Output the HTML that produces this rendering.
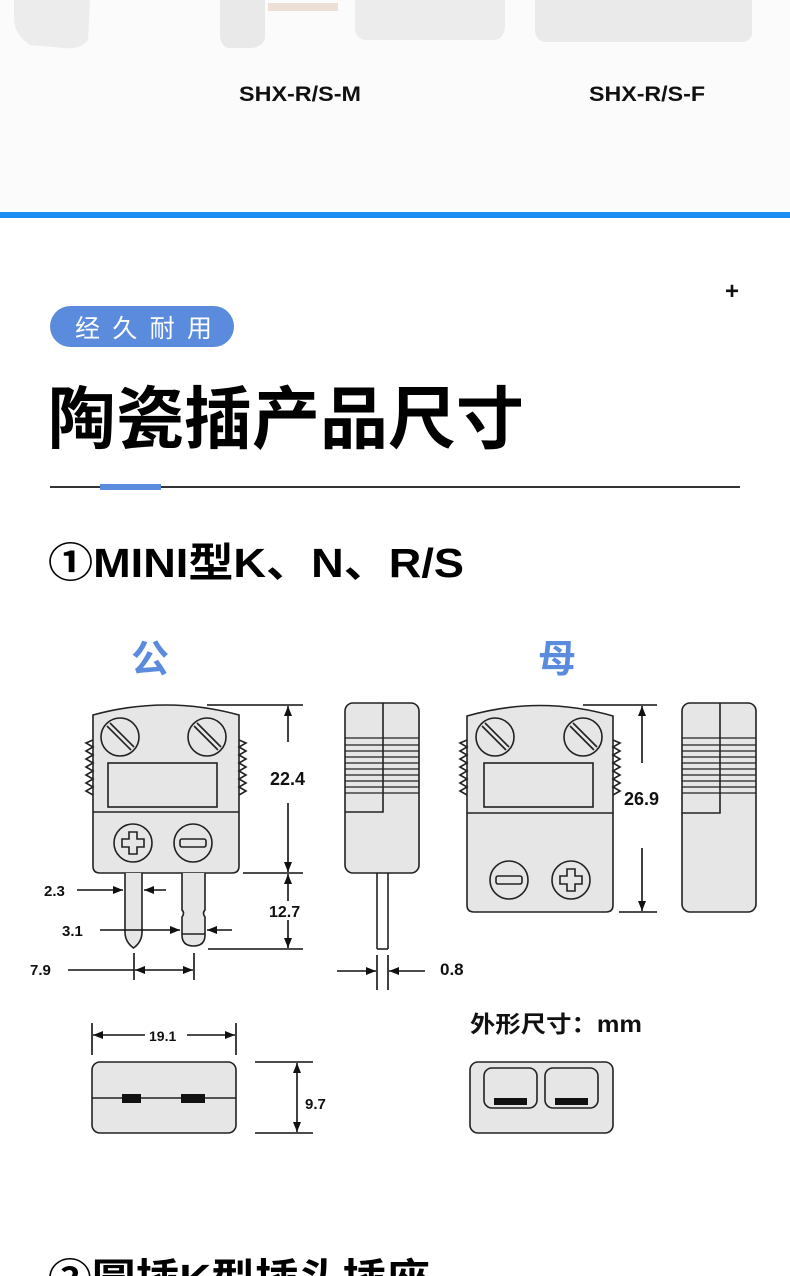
<!DOCTYPE html>
<html><head><meta charset="utf-8"><style>
html,body{margin:0;padding:0;background:#fff;}
body{width:790px;height:1276px;overflow:hidden;position:relative;font-family:"Liberation Sans","Noto Sans CJK SC",sans-serif;}
svg{position:absolute;left:0;top:0;}
</style></head><body>
<svg width="790" height="1276" viewBox="0 0 790 1276" xmlns="http://www.w3.org/2000/svg">
<defs>
<marker id="ar" viewBox="0 0 10 10" refX="10" refY="5" markerWidth="10" markerHeight="10" orient="auto-start-reverse" markerUnits="userSpaceOnUse"><path d="M0,1 L10,5 L0,9 z" fill="#111"/></marker>
</defs>
<rect x="0" y="0" width="790" height="212" fill="#fbfbfb"/>
<path d="M14,0 L90,0 L88,40 Q80,50 65,48 L30,45 Q15,35 14,20z" fill="#ececec"/>
<path d="M220,0 L265,0 L265,38 Q262,48 250,48 L228,48 Q220,45 220,35z" fill="#e9e9e9"/>
<rect x="268" y="3" width="70" height="8" fill="#eedfd6"/>
<path d="M355,0 L505,0 L505,25 Q505,38 495,40 L365,40 Q355,38 355,28z" fill="#ececec"/>
<path d="M535,0 L752,0 L752,35 Q750,42 740,42 L545,42 Q535,40 535,30z" fill="#eaeaea"/>
<text x="300" y="101" text-anchor="middle" font-size="21" font-weight="bold" fill="#111" textLength="122" lengthAdjust="spacingAndGlyphs">SHX-R/S-M</text>
<text x="647" y="101" text-anchor="middle" font-size="21" font-weight="bold" fill="#111" textLength="116" lengthAdjust="spacingAndGlyphs">SHX-R/S-F</text>
<rect x="0" y="212" width="790" height="6" fill="#1a8cf2"/>

<text x="732" y="299" text-anchor="middle" font-size="24" font-weight="bold" fill="#111">+</text>
<rect x="50" y="306" width="184" height="41" rx="20.5" fill="#5b8bdc"/>
<text x="75" y="337" font-size="25" fill="#fff" textLength="137" lengthAdjust="spacing" font-family="Noto Sans CJK SC, sans-serif">经久耐用</text>
<text x="48" y="443" font-size="68" font-weight="bold" fill="#000" font-family="Noto Sans CJK SC, sans-serif">陶瓷插产品尺寸</text>
<rect x="50" y="486" width="690" height="2" fill="#333"/>
<rect x="100" y="484" width="61" height="6" fill="#5b8bdc"/>
<text x="48" y="577" font-size="41" font-weight="bold" fill="#000" textLength="416" lengthAdjust="spacingAndGlyphs" font-family="Liberation Sans, Noto Sans CJK SC, sans-serif">①MINI型K、N、R/S</text>
<text x="150" y="672" text-anchor="middle" font-size="38" font-weight="bold" fill="#5b8bdc" font-family="Noto Sans CJK SC, sans-serif">公</text>
<text x="557" y="672" text-anchor="middle" font-size="38" font-weight="bold" fill="#5b8bdc" font-family="Noto Sans CJK SC, sans-serif">母</text>

<g stroke="#222" stroke-width="1.6" fill="#e6e6e6">
<path d="M93,715 Q166,695 239,715 L239,866 Q239,873 232,873 L100,873 Q93,873 93,866 Z"/>
<line x1="93" y1="812" x2="239" y2="812"/>
<rect x="108" y="763" width="109" height="44" fill="#e6e6e6"/>
<path d="M93,740 l-7,3 7,4 -7,4 7,4 -7,4 7,4 -7,4 7,4 -7,4 7,4 -7,4 7,4 -7,4 7,4" fill="none"/>
<path d="M239,740 l7,3 -7,4 7,4 -7,4 7,4 -7,4 7,4 -7,4 7,4 -7,4 7,4 -7,4 7,4 -7,4" fill="none"/>
<circle cx="120" cy="737" r="19"/><circle cx="207" cy="737" r="19"/>
<circle cx="133" cy="843" r="19"/><circle cx="193" cy="843" r="19"/>
<path d="M125,873 L125,932 Q125,942 133.5,948 Q142,942 142,932 L142,873"/>
<path d="M182,873 L182,910 Q185,913 182,917 L182,935 Q182,946 193.5,946 Q205,946 205,935 L205,917 Q202,913 205,910 L205,873"/>
<line x1="182" y1="934" x2="205" y2="934"/>
<rect x="345" y="703" width="74" height="170" rx="8"/>
<line x1="377" y1="873" x2="377" y2="949"/><line x1="388" y1="873" x2="388" y2="949"/><line x1="377" y1="949" x2="388" y2="949"/>
<path d="M383,703 L383,812 L345,812" fill="none"/>
<path d="M467,716 Q540,695 613,716 L613,905 Q613,912 606,912 L474,912 Q467,912 467,905 Z"/>
<line x1="467" y1="813" x2="613" y2="813"/>
<rect x="484" y="763" width="109" height="44"/>
<path d="M467,740 l-7,3 7,4 -7,4 7,4 -7,4 7,4 -7,4 7,4 -7,4 7,4 -7,4 7,4 -7,4 7,4" fill="none"/>
<path d="M613,740 l7,3 -7,4 7,4 -7,4 7,4 -7,4 7,4 -7,4 7,4 -7,4 7,4 -7,4 7,4 -7,4" fill="none"/>
<circle cx="495" cy="737" r="19"/><circle cx="583" cy="737" r="19"/>
<circle cx="509" cy="880" r="19"/><circle cx="571" cy="880" r="19"/>
<rect x="682" y="703" width="74" height="209" rx="8"/>
<path d="M720,703 L720,813 L682,813" fill="none"/>
<rect x="92" y="1062" width="144" height="71" rx="8"/>
<line x1="92" y1="1098" x2="236" y2="1098"/>
<rect x="470" y="1062" width="143" height="71" rx="8"/>
<rect x="484" y="1068" width="53" height="40" rx="8"/>
<rect x="545" y="1068" width="53" height="40" rx="8"/>
</g>
<g stroke="#222" stroke-width="1.6" fill="none">
<path d="M107,726 L131,750 M110,723 L134,747"/>
<path d="M194,726 L218,750 M197,723 L221,747"/>
<path d="M482,726 L506,750 M485,723 L509,747"/>
<path d="M570,726 L594,750 M573,723 L597,747"/>
<path d="M129,832 h8 v7 h7 v8 h-7 v7 h-8 v-7 h-7 v-8 h7z"/>
<rect x="180" y="839" width="26" height="8" rx="2"/>
<path d="M567,869 h8 v7 h7 v8 h-7 v7 h-8 v-7 h-7 v-8 h7z"/>
<rect x="496" y="876" width="26" height="8" rx="2"/>
</g>
<g stroke="#222" stroke-width="1.2">
<line x1="345" y1="738" x2="419" y2="738"/><line x1="345" y1="745" x2="419" y2="745"/><line x1="345" y1="751" x2="419" y2="751"/><line x1="345" y1="757" x2="419" y2="757"/><line x1="345" y1="763" x2="419" y2="763"/><line x1="345" y1="769" x2="419" y2="769"/><line x1="345" y1="775" x2="419" y2="775"/><line x1="345" y1="781" x2="419" y2="781"/><line x1="345" y1="787" x2="419" y2="787"/><line x1="345" y1="793" x2="419" y2="793"/>
<line x1="682" y1="738" x2="756" y2="738"/><line x1="682" y1="745" x2="756" y2="745"/><line x1="682" y1="751" x2="756" y2="751"/><line x1="682" y1="757" x2="756" y2="757"/><line x1="682" y1="763" x2="756" y2="763"/><line x1="682" y1="769" x2="756" y2="769"/><line x1="682" y1="775" x2="756" y2="775"/><line x1="682" y1="781" x2="756" y2="781"/><line x1="682" y1="787" x2="756" y2="787"/><line x1="682" y1="793" x2="756" y2="793"/>
</g>
<g fill="#111">
<rect x="122" y="1094" width="19" height="9"/><rect x="181" y="1094" width="24" height="9"/>
<rect x="494" y="1098" width="33" height="7"/><rect x="555" y="1098" width="33" height="7"/>
</g>
<g stroke="#111" stroke-width="1.6" fill="none">
<line x1="207" y1="705" x2="303" y2="705"/>
<line x1="243" y1="873" x2="303" y2="873"/>
<line x1="208" y1="949" x2="303" y2="949"/>
<line x1="288" y1="742" x2="288" y2="706" marker-end="url(#ar)"/>
<line x1="288" y1="803" x2="288" y2="872" marker-end="url(#ar)"/>
<line x1="288" y1="874" x2="288" y2="948" marker-start="url(#ar)" marker-end="url(#ar)"/>
<line x1="77" y1="890" x2="123" y2="890" marker-end="url(#ar)"/>
<line x1="166" y1="890" x2="144" y2="890" marker-end="url(#ar)"/>
<line x1="100" y1="930" x2="180" y2="930" marker-end="url(#ar)"/>
<line x1="232" y1="930" x2="207" y2="930" marker-end="url(#ar)"/>
<line x1="134" y1="953" x2="134" y2="980"/><line x1="194" y1="953" x2="194" y2="980"/>
<line x1="68" y1="970" x2="134" y2="970"/>
<line x1="135" y1="970" x2="193" y2="970" marker-start="url(#ar)" marker-end="url(#ar)"/>
<line x1="377" y1="955" x2="377" y2="990"/><line x1="388" y1="955" x2="388" y2="990"/>
<line x1="337" y1="971" x2="376" y2="971" marker-end="url(#ar)"/>
<line x1="425" y1="971" x2="389" y2="971" marker-end="url(#ar)"/>
<line x1="583" y1="705" x2="657" y2="705"/>
<line x1="619" y1="912" x2="657" y2="912"/>
<line x1="642" y1="763" x2="642" y2="706" marker-end="url(#ar)"/>
<line x1="642" y1="848" x2="642" y2="911" marker-end="url(#ar)"/>
<line x1="92" y1="1023" x2="92" y2="1055"/><line x1="236" y1="1023" x2="236" y2="1055"/>
<line x1="145" y1="1035" x2="93" y2="1035" marker-end="url(#ar)"/>
<line x1="187" y1="1035" x2="235" y2="1035" marker-end="url(#ar)"/>
<line x1="255" y1="1062" x2="313" y2="1062"/><line x1="255" y1="1133" x2="313" y2="1133"/>
<line x1="297" y1="1063" x2="297" y2="1132" marker-start="url(#ar)" marker-end="url(#ar)"/>
</g>
<rect x="268" y="901" width="40" height="19" fill="#fff"/>
<g font-weight="bold" fill="#111" font-family="Liberation Sans, sans-serif">
<text x="270" y="785" font-size="18">22.4</text>
<text x="269" y="917" font-size="16">12.7</text>
<text x="44" y="896" font-size="15">2.3</text>
<text x="62" y="936" font-size="15">3.1</text>
<text x="30" y="975" font-size="15">7.9</text>
<text x="440" y="975" font-size="17">0.8</text>
<text x="624" y="805" font-size="18">26.9</text>
<text x="149" y="1041" font-size="14">19.1</text>
<text x="305" y="1109" font-size="15">9.7</text>
<text x="470" y="1032" font-size="23" font-family="Liberation Sans, Noto Sans CJK SC, sans-serif" textLength="172" lengthAdjust="spacingAndGlyphs">外形尺寸：mm</text>
</g>
<text x="48" y="1293" font-size="41" font-weight="bold" fill="#000" textLength="382" lengthAdjust="spacingAndGlyphs" font-family="Liberation Sans, Noto Sans CJK SC, sans-serif">②圆插K型插头插座</text>
</svg>
</body></html>
